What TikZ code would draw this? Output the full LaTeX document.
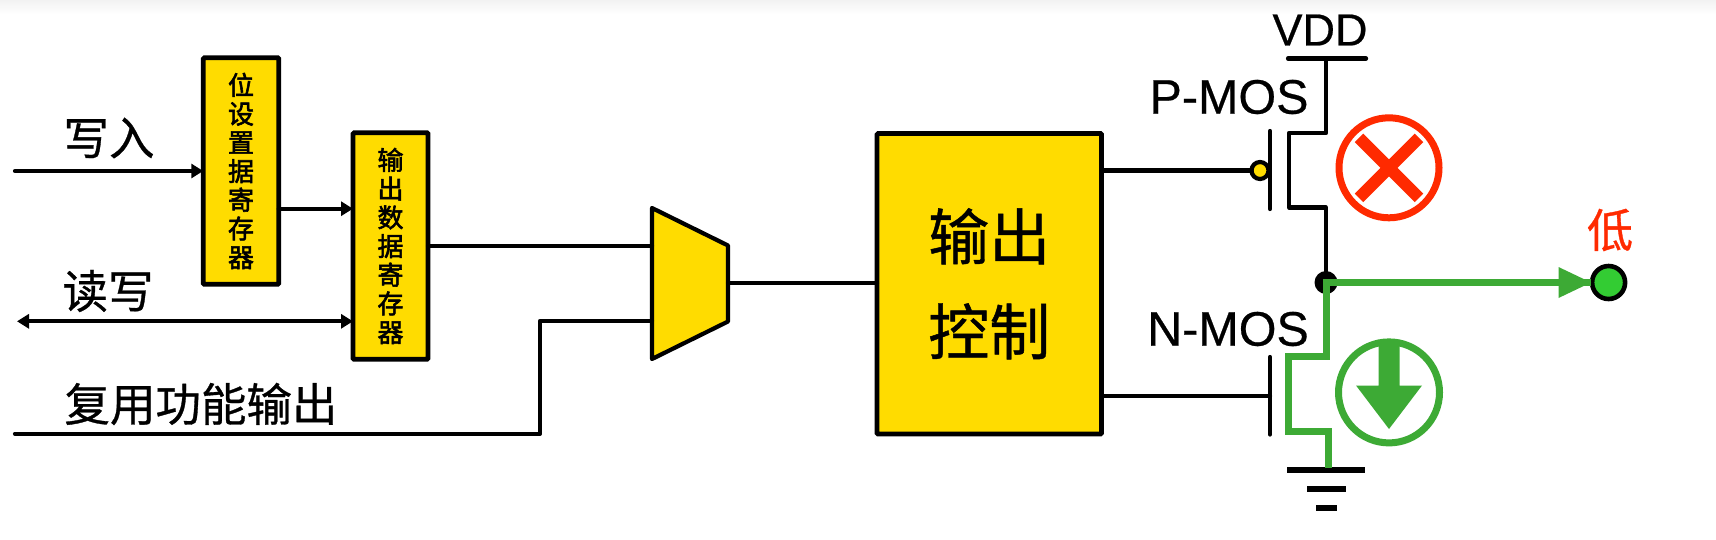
\documentclass[tikz,border=0pt]{standalone}
\usepackage{fontspec}
\setmainfont{Liberation Sans}
\newfontfamily\cjk[FakeBold=0.7]{Noto Sans CJK SC}
\newfontfamily\cjksmall[FakeBold=2.2]{Noto Sans CJK SC}
\newfontfamily\latinf[FakeBold=0.5]{Liberation Sans}
\usetikzlibrary{arrows.meta,calc}
\definecolor{boxyellow}{HTML}{FFDC00}
\definecolor{alarmred}{HTML}{FF2A00}
\definecolor{flowgreen}{HTML}{3DAA35}
\definecolor{ledgreen}{HTML}{33CC33}
\definecolor{topgray}{HTML}{F2F2F2}
\tikzset{
  wire/.style={line width=4.2pt,black,line cap=round,line join=round},
  sig/.style={wire,-{Triangle[length=12pt,width=14pt]}},
  bisig/.style={wire,{Triangle[length=12pt,width=14pt]}-{Triangle[length=12pt,width=14pt]}},
  flow/.style={line width=7pt,flowgreen,line join=miter},
  block/.style={draw=black,fill=boxyellow,line width=4.6pt,rounded corners=1pt,outer sep=0pt,inner sep=0pt},
  smalltxt/.style={font=\cjksmall\fontsize{26}{28.7}\selectfont,align=center,text=black},
  bigtxt/.style={font=\cjk\fontsize{61}{95}\selectfont,align=center,text=black},
  lab/.style={font=\cjk\fontsize{45.5}{50}\selectfont,text=black,inner sep=0pt},
  latin/.style={font=\latinf\fontsize{48.5}{50}\selectfont,text=black,inner sep=0pt},
}
\begin{document}
\begin{tikzpicture}[x=1pt,y=-1pt]
\useasboundingbox (0,0) rectangle (1716,539);
\fill[white] (0,0) rectangle (1716,539);
\shade[top color=topgray,bottom color=white] (0,0) rectangle (1716,14);
\begin{scope}[yshift=-1pt]
% blocks
\node[block,minimum width=75.5pt,minimum height=226.5pt,smalltxt] (b1) at (241,170) {位\\设\\置\\据\\寄\\存\\器};
\node[block,minimum width=75pt,minimum height=226.5pt,smalltxt] (b2) at (390.5,245) {输\\出\\数\\据\\寄\\存\\器};
\node[block,minimum width=224.5pt,minimum height=300.5pt,bigtxt] (ctl) at (989.25,282.75) {\raisebox{-2.5pt}{输出}\\\raisebox{-2.5pt}{控制}};

% mux
\coordinate (m1) at (652,207);
\coordinate (m2) at (728,244.5);
\coordinate (m3) at (728,320.5);
\coordinate (m4) at (652,358);
\draw[wire,fill=boxyellow,miter limit=4] (m1) -- (m2) -- (m3) -- (m4) -- cycle;
\coordinate (mo) at (728,282.3);
\coordinate (mi1) at (652,245);
\coordinate (mi2) at (652,320);

% inputs
\coordinate (w) at (15,170);
\coordinate (rw) at (17,320.3);
\coordinate (af) at (15,432.7);
\coordinate (afk) at (540,432.7);
\draw[sig] (w) -- (w -| b1.west);
\draw[sig] (b1.east |- 0,207.7) -- (b2.west |- 0,207.7);
\draw[bisig] (rw) -- (rw -| b2.west);
\draw[wire] (af) -- (afk) -- (afk |- mi2) -- (mi2);
\draw[wire] (mi1 -| b2.east) -- (mi1);
\draw[wire] (mo) -- (mo -| ctl.west);

% labels
\node[lab] (lw) at (109,137) {写入};
\node[lab] (lrw) at (108,290) {读写};
\node[lab] (laf) at (201,403) {复用功能输出};

% supply
\node[font=\latinf\fontsize{45}{50}\selectfont,inner sep=0pt] (vdd) at (1320,29) {VDD};
\coordinate (vl) at (1288,57.5);
\coordinate (vr) at (1366,57.5);
\coordinate (vm) at (1326,57.5);
\draw[wire] (vl) -- (vr);
\coordinate (out) at (1326,281.5);

% P-MOS
\node[latin] (pl) at (1229,96) {P-MOS};
\coordinate (pd1) at (1326,132);
\coordinate (pd2) at (1289,132);
\coordinate (pd3) at (1289,206.5);
\coordinate (pd4) at (1326,206.5);
\draw[wire] (vm) -- (pd1) -- (pd2) -- (pd3) -- (pd4) -- (out);
\coordinate (pg1) at (1270,130);
\coordinate (pg2) at (1270,208);
\draw[wire] (pg1) -- (pg2);
\node[circle,draw=black,fill=boxyellow,line width=4.2pt,minimum size=17pt,inner sep=0pt,outer sep=0pt] (bub) at (1260,169.5) {};
\draw[wire] (ctl.east |- bub) -- (bub.west);

% N-MOS
\node[latin] (nl) at (1228,328) {N-MOS};
\coordinate (ng1) at (1270,356);
\coordinate (ng2) at (1270,433.5);
\draw[wire] (ng1) -- (ng2);
\coordinate (gn) at (1270,395);
\draw[wire] (ctl.east |- gn) -- (gn);

% ground
\coordinate (g1l) at (1287,469);
\coordinate (g1r) at (1365,469);
\coordinate (g2l) at (1307,488);
\coordinate (g2r) at (1346,488);
\coordinate (g3l) at (1316,507);
\coordinate (g3r) at (1337,507);
\draw[line width=5.5pt] (g1l) -- (g1r);
\draw[line width=5.5pt] (g2l) -- (g2r);
\draw[line width=5.5pt] (g3l) -- (g3r);

% output
\node[circle,fill=black,minimum size=23pt,inner sep=0pt] (dot) at (out) {};
\node[circle,draw=black,fill=ledgreen,line width=4.6pt,minimum size=33pt,inner sep=0pt,outer sep=0pt] (led) at (1608.6,281.5) {};
\coordinate (n1) at (1326,355.5);
\coordinate (n2) at (1288,355.5);
\coordinate (n3) at (1288,430);
\coordinate (n4) at (1328,430);
\coordinate (n5) at (1328,467);
\draw[flow] (n5) -- (n4) -- (n3) -- (n2) -- (n1) -- (out) -- ($(led.west)+(-1,0)$);
\draw[flowgreen,fill=flowgreen,draw=none] (1558.5,266) -- (1591,281.5) -- (1558.5,297) -- cycle;
\node[font=\cjk\fontsize{46}{50}\selectfont,text=alarmred,inner sep=0pt] (low) at (1610,229) {低};

% status icons
\node[circle,draw=alarmred,line width=7pt,minimum size=100pt,inner sep=0pt] (off) at (1389,166.8) {};
\draw[alarmred,line width=12pt] ($(off)+(-30,-30)$) -- ($(off)+(30,30)$);
\draw[alarmred,line width=12pt] ($(off)+(-30,30)$) -- ($(off)+(30,-30)$);
\node[circle,draw=flowgreen,line width=7pt,minimum size=101pt,inner sep=0pt] (on) at (1389,391.4) {};
\fill[flowgreen] (1378.5,343) -- (1399.5,343) -- (1399.5,384.5) -- (1422,384.5) -- (1389,428) -- (1356,384.5) -- (1378.5,384.5) -- cycle;
\end{scope}
\end{tikzpicture}
\end{document}
